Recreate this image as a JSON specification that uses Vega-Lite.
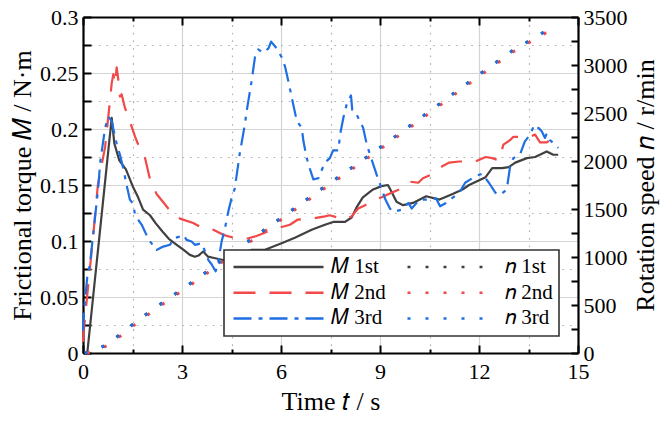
{
  "$schema": "https://vega.github.io/schema/vega-lite/v6.json",
  "width": 495,
  "height": 336,
  "autosize": "none",
  "padding": {"left": 83, "top": 17, "right": 83, "bottom": 68},
  "background": "white",
  "config": {"view": {"stroke": null}, "font": "Liberation Serif, Times New Roman, serif"},
  "datasets": {
    "M": [
      {"t":0.13,"v":0,"s":"M1"},{"t":0.87,"v":0.21,"s":"M1"},{"t":0.95,"v":0.187,"s":"M1"},{"t":1.1,"v":0.172,"s":"M1"},{"t":1.3,"v":0.164,"s":"M1"},{"t":1.45,"v":0.153,"s":"M1"},{"t":1.52,"v":0.148,"s":"M1"},{"t":1.67,"v":0.139,"s":"M1"},{"t":1.82,"v":0.128,"s":"M1"},{"t":2.03,"v":0.123,"s":"M1"},{"t":2.2,"v":0.116,"s":"M1"},{"t":2.42,"v":0.108,"s":"M1"},{"t":2.6,"v":0.102,"s":"M1"},{"t":2.84,"v":0.0966,"s":"M1"},{"t":3.05,"v":0.092,"s":"M1"},{"t":3.24,"v":0.0876,"s":"M1"},{"t":3.39,"v":0.086,"s":"M1"},{"t":3.5,"v":0.087,"s":"M1"},{"t":3.64,"v":0.0906,"s":"M1"},{"t":3.79,"v":0.086,"s":"M1"},{"t":3.94,"v":0.085,"s":"M1"},{"t":4.24,"v":0.083,"s":"M1"},{"t":4.5,"v":0.084,"s":"M1"},{"t":4.8,"v":0.088,"s":"M1"},{"t":5.1,"v":0.092,"s":"M1"},{"t":5.5,"v":0.092,"s":"M1"},{"t":5.9,"v":0.0966,"s":"M1"},{"t":6.42,"v":0.103,"s":"M1"},{"t":6.93,"v":0.11,"s":"M1"},{"t":7.33,"v":0.1145,"s":"M1"},{"t":7.58,"v":0.117,"s":"M1"},{"t":7.94,"v":0.117,"s":"M1"},{"t":8.14,"v":0.121,"s":"M1"},{"t":8.29,"v":0.13,"s":"M1"},{"t":8.48,"v":0.139,"s":"M1"},{"t":8.79,"v":0.146,"s":"M1"},{"t":9.05,"v":0.149,"s":"M1"},{"t":9.24,"v":0.15,"s":"M1"},{"t":9.35,"v":0.144,"s":"M1"},{"t":9.5,"v":0.135,"s":"M1"},{"t":9.7,"v":0.132,"s":"M1"},{"t":10.0,"v":0.134,"s":"M1"},{"t":10.4,"v":0.14,"s":"M1"},{"t":10.8,"v":0.137,"s":"M1"},{"t":11.2,"v":0.142,"s":"M1"},{"t":11.5,"v":0.146,"s":"M1"},{"t":11.7,"v":0.15,"s":"M1"},{"t":12.2,"v":0.157,"s":"M1"},{"t":12.4,"v":0.165,"s":"M1"},{"t":12.7,"v":0.165,"s":"M1"},{"t":12.9,"v":0.166,"s":"M1"},{"t":13.1,"v":0.17,"s":"M1"},{"t":13.45,"v":0.174,"s":"M1"},{"t":13.7,"v":0.175,"s":"M1"},{"t":14.05,"v":0.18,"s":"M1"},{"t":14.25,"v":0.177,"s":"M1"},{"t":14.4,"v":0.177,"s":"M1"},
      {"t":0.0,"v":0.01,"s":"M2"},{"t":0.03,"v":0.022,"s":"M2"},{"t":0.16,"v":0.061,"s":"M2"},{"t":0.31,"v":0.105,"s":"M2"},{"t":0.45,"v":0.15,"s":"M2"},{"t":0.67,"v":0.184,"s":"M2"},{"t":0.82,"v":0.226,"s":"M2"},{"t":0.87,"v":0.241,"s":"M2"},{"t":0.92,"v":0.249,"s":"M2"},{"t":0.97,"v":0.24,"s":"M2"},{"t":1.02,"v":0.255,"s":"M2"},{"t":1.07,"v":0.244,"s":"M2"},{"t":1.12,"v":0.229,"s":"M2"},{"t":1.17,"v":0.231,"s":"M2"},{"t":1.27,"v":0.219,"s":"M2"},{"t":1.42,"v":0.207,"s":"M2"},{"t":1.58,"v":0.193,"s":"M2"},{"t":1.73,"v":0.182,"s":"M2"},{"t":1.88,"v":0.174,"s":"M2"},{"t":2.03,"v":0.155,"s":"M2"},{"t":2.23,"v":0.142,"s":"M2"},{"t":2.53,"v":0.131,"s":"M2"},{"t":2.74,"v":0.123,"s":"M2"},{"t":2.94,"v":0.12,"s":"M2"},{"t":3.34,"v":0.116,"s":"M2"},{"t":3.65,"v":0.111,"s":"M2"},{"t":3.95,"v":0.11,"s":"M2"},{"t":4.25,"v":0.1055,"s":"M2"},{"t":4.55,"v":0.103,"s":"M2"},{"t":4.9,"v":0.1015,"s":"M2"},{"t":5.26,"v":0.1045,"s":"M2"},{"t":5.56,"v":0.108,"s":"M2"},{"t":5.95,"v":0.112,"s":"M2"},{"t":6.27,"v":0.1145,"s":"M2"},{"t":6.5,"v":0.119,"s":"M2"},{"t":6.93,"v":0.12,"s":"M2"},{"t":7.33,"v":0.122,"s":"M2"},{"t":7.48,"v":0.123,"s":"M2"},{"t":7.94,"v":0.119,"s":"M2"},{"t":8.14,"v":0.122,"s":"M2"},{"t":8.34,"v":0.129,"s":"M2"},{"t":8.55,"v":0.132,"s":"M2"},{"t":8.85,"v":0.137,"s":"M2"},{"t":9.05,"v":0.139,"s":"M2"},{"t":9.35,"v":0.143,"s":"M2"},{"t":9.66,"v":0.147,"s":"M2"},{"t":9.9,"v":0.153,"s":"M2"},{"t":10.16,"v":0.152,"s":"M2"},{"t":10.3,"v":0.156,"s":"M2"},{"t":10.6,"v":0.16,"s":"M2"},{"t":10.9,"v":0.167,"s":"M2"},{"t":11.1,"v":0.17,"s":"M2"},{"t":11.4,"v":0.171,"s":"M2"},{"t":11.9,"v":0.171,"s":"M2"},{"t":12.2,"v":0.175,"s":"M2"},{"t":12.4,"v":0.174,"s":"M2"},{"t":12.6,"v":0.172,"s":"M2"},{"t":12.74,"v":0.186,"s":"M2"},{"t":12.94,"v":0.19,"s":"M2"},{"t":13.04,"v":0.193,"s":"M2"},{"t":13.34,"v":0.193,"s":"M2"},{"t":13.55,"v":0.193,"s":"M2"},{"t":13.7,"v":0.195,"s":"M2"},{"t":13.85,"v":0.188,"s":"M2"},{"t":14.05,"v":0.188,"s":"M2"},{"t":14.15,"v":0.19,"s":"M2"},{"t":14.4,"v":0.193,"s":"M2"},
      {"t":0.0,"v":0.02,"s":"M3"},{"t":0.03,"v":0.037,"s":"M3"},{"t":0.13,"v":0.068,"s":"M3"},{"t":0.21,"v":0.079,"s":"M3"},{"t":0.36,"v":0.12,"s":"M3"},{"t":0.46,"v":0.147,"s":"M3"},{"t":0.52,"v":0.17,"s":"M3"},{"t":0.67,"v":0.201,"s":"M3"},{"t":0.77,"v":0.211,"s":"M3"},{"t":0.87,"v":0.207,"s":"M3"},{"t":0.92,"v":0.2,"s":"M3"},{"t":1.02,"v":0.187,"s":"M3"},{"t":1.12,"v":0.177,"s":"M3"},{"t":1.22,"v":0.165,"s":"M3"},{"t":1.32,"v":0.15,"s":"M3"},{"t":1.42,"v":0.137,"s":"M3"},{"t":1.52,"v":0.133,"s":"M3"},{"t":1.58,"v":0.123,"s":"M3"},{"t":1.78,"v":0.1145,"s":"M3"},{"t":1.93,"v":0.105,"s":"M3"},{"t":1.98,"v":0.101,"s":"M3"},{"t":2.08,"v":0.098,"s":"M3"},{"t":2.13,"v":0.0936,"s":"M3"},{"t":2.23,"v":0.092,"s":"M3"},{"t":2.43,"v":0.095,"s":"M3"},{"t":2.64,"v":0.0966,"s":"M3"},{"t":2.74,"v":0.1025,"s":"M3"},{"t":2.94,"v":0.104,"s":"M3"},{"t":3.04,"v":0.1055,"s":"M3"},{"t":3.14,"v":0.101,"s":"M3"},{"t":3.29,"v":0.0995,"s":"M3"},{"t":3.39,"v":0.0966,"s":"M3"},{"t":3.6,"v":0.098,"s":"M3"},{"t":3.7,"v":0.0906,"s":"M3"},{"t":3.8,"v":0.083,"s":"M3"},{"t":3.9,"v":0.079,"s":"M3"},{"t":4.02,"v":0.073,"s":"M3"},{"t":4.08,"v":0.079,"s":"M3"},{"t":4.15,"v":0.0906,"s":"M3"},{"t":4.2,"v":0.0995,"s":"M3"},{"t":4.3,"v":0.111,"s":"M3"},{"t":4.4,"v":0.126,"s":"M3"},{"t":4.5,"v":0.138,"s":"M3"},{"t":4.6,"v":0.147,"s":"M3"},{"t":4.75,"v":0.178,"s":"M3"},{"t":4.91,"v":0.205,"s":"M3"},{"t":4.96,"v":0.216,"s":"M3"},{"t":5.11,"v":0.243,"s":"M3"},{"t":5.21,"v":0.264,"s":"M3"},{"t":5.31,"v":0.271,"s":"M3"},{"t":5.46,"v":0.268,"s":"M3"},{"t":5.62,"v":0.272,"s":"M3"},{"t":5.7,"v":0.278,"s":"M3"},{"t":5.87,"v":0.272,"s":"M3"},{"t":6.02,"v":0.264,"s":"M3"},{"t":6.12,"v":0.256,"s":"M3"},{"t":6.22,"v":0.243,"s":"M3"},{"t":6.37,"v":0.222,"s":"M3"},{"t":6.48,"v":0.207,"s":"M3"},{"t":6.63,"v":0.201,"s":"M3"},{"t":6.68,"v":0.189,"s":"M3"},{"t":6.78,"v":0.174,"s":"M3"},{"t":6.88,"v":0.164,"s":"M3"},{"t":6.98,"v":0.155,"s":"M3"},{"t":7.13,"v":0.156,"s":"M3"},{"t":7.33,"v":0.17,"s":"M3"},{"t":7.48,"v":0.174,"s":"M3"},{"t":7.58,"v":0.181,"s":"M3"},{"t":7.74,"v":0.181,"s":"M3"},{"t":7.79,"v":0.195,"s":"M3"},{"t":7.89,"v":0.21,"s":"M3"},{"t":7.99,"v":0.222,"s":"M3"},{"t":8.06,"v":0.226,"s":"M3"},{"t":8.12,"v":0.23,"s":"M3"},{"t":8.16,"v":0.217,"s":"M3"},{"t":8.24,"v":0.216,"s":"M3"},{"t":8.39,"v":0.207,"s":"M3"},{"t":8.49,"v":0.201,"s":"M3"},{"t":8.6,"v":0.186,"s":"M3"},{"t":8.7,"v":0.177,"s":"M3"},{"t":8.8,"v":0.168,"s":"M3"},{"t":8.9,"v":0.159,"s":"M3"},{"t":9.0,"v":0.151,"s":"M3"},{"t":9.15,"v":0.138,"s":"M3"},{"t":9.3,"v":0.129,"s":"M3"},{"t":9.4,"v":0.126,"s":"M3"},{"t":9.66,"v":0.128,"s":"M3"},{"t":9.86,"v":0.134,"s":"M3"},{"t":9.96,"v":0.129,"s":"M3"},{"t":10.2,"v":0.137,"s":"M3"},{"t":10.5,"v":0.137,"s":"M3"},{"t":10.7,"v":0.138,"s":"M3"},{"t":10.82,"v":0.131,"s":"M3"},{"t":11.0,"v":0.134,"s":"M3"},{"t":11.17,"v":0.138,"s":"M3"},{"t":11.32,"v":0.141,"s":"M3"},{"t":11.42,"v":0.144,"s":"M3"},{"t":11.58,"v":0.152,"s":"M3"},{"t":11.9,"v":0.158,"s":"M3"},{"t":12.1,"v":0.16,"s":"M3"},{"t":12.3,"v":0.152,"s":"M3"},{"t":12.5,"v":0.143,"s":"M3"},{"t":12.64,"v":0.141,"s":"M3"},{"t":12.84,"v":0.146,"s":"M3"},{"t":12.94,"v":0.166,"s":"M3"},{"t":13.04,"v":0.174,"s":"M3"},{"t":13.24,"v":0.177,"s":"M3"},{"t":13.39,"v":0.189,"s":"M3"},{"t":13.55,"v":0.195,"s":"M3"},{"t":13.65,"v":0.202,"s":"M3"},{"t":13.75,"v":0.199,"s":"M3"},{"t":13.8,"v":0.201,"s":"M3"},{"t":13.9,"v":0.198,"s":"M3"},{"t":14.0,"v":0.192,"s":"M3"},{"t":14.05,"v":0.196,"s":"M3"},{"t":14.15,"v":0.19,"s":"M3"},{"t":14.25,"v":0.1875,"s":"M3"},{"t":14.4,"v":0.183,"s":"M3"}
    ],
    "N": [
      {"t":0.05,"v":0,"s":"n1"},{"t":0.3,"v":25,"s":"n1"},{"t":0.5,"v":45,"s":"n1"},{"t":0.8,"v":110,"s":"n1"},{"t":1.0,"v":160,"s":"n1"},{"t":1.25,"v":228,"s":"n1"},{"t":1.5,"v":295,"s":"n1"},{"t":2.0,"v":425,"s":"n1"},{"t":2.5,"v":545,"s":"n1"},{"t":3.0,"v":665,"s":"n1"},{"t":3.5,"v":785,"s":"n1"},{"t":4.0,"v":910,"s":"n1"},{"t":4.5,"v":1035,"s":"n1"},{"t":5.0,"v":1160,"s":"n1"},{"t":6.0,"v":1405,"s":"n1"},{"t":7.0,"v":1655,"s":"n1"},{"t":8.0,"v":1895,"s":"n1"},{"t":9.0,"v":2140,"s":"n1"},{"t":10.0,"v":2390,"s":"n1"},{"t":11.0,"v":2645,"s":"n1"},{"t":12.0,"v":2900,"s":"n1"},{"t":13.0,"v":3145,"s":"n1"},{"t":14.25,"v":3400,"s":"n1"},
      {"t":0.12,"v":0,"s":"n2"},{"t":0.37,"v":25,"s":"n2"},{"t":0.57,"v":45,"s":"n2"},{"t":0.87,"v":110,"s":"n2"},{"t":1.07,"v":160,"s":"n2"},{"t":1.32,"v":228,"s":"n2"},{"t":1.57,"v":295,"s":"n2"},{"t":2.07,"v":425,"s":"n2"},{"t":2.57,"v":545,"s":"n2"},{"t":3.07,"v":665,"s":"n2"},{"t":3.57,"v":785,"s":"n2"},{"t":4.07,"v":910,"s":"n2"},{"t":4.57,"v":1035,"s":"n2"},{"t":5.07,"v":1160,"s":"n2"},{"t":6.07,"v":1405,"s":"n2"},{"t":7.07,"v":1655,"s":"n2"},{"t":8.07,"v":1895,"s":"n2"},{"t":9.07,"v":2140,"s":"n2"},{"t":10.07,"v":2390,"s":"n2"},{"t":11.07,"v":2645,"s":"n2"},{"t":12.07,"v":2900,"s":"n2"},{"t":13.07,"v":3145,"s":"n2"},{"t":14.3,"v":3390,"s":"n2"},
      {"t":0.05,"v":0,"s":"n3"},{"t":0.3,"v":25,"s":"n3"},{"t":0.5,"v":45,"s":"n3"},{"t":0.8,"v":110,"s":"n3"},{"t":1.0,"v":160,"s":"n3"},{"t":1.25,"v":228,"s":"n3"},{"t":1.5,"v":295,"s":"n3"},{"t":2.0,"v":425,"s":"n3"},{"t":2.5,"v":545,"s":"n3"},{"t":3.0,"v":665,"s":"n3"},{"t":3.5,"v":785,"s":"n3"},{"t":4.0,"v":910,"s":"n3"},{"t":4.5,"v":1035,"s":"n3"},{"t":5.0,"v":1160,"s":"n3"},{"t":6.0,"v":1405,"s":"n3"},{"t":7.0,"v":1655,"s":"n3"},{"t":8.0,"v":1895,"s":"n3"},{"t":9.0,"v":2140,"s":"n3"},{"t":10.0,"v":2390,"s":"n3"},{"t":11.0,"v":2645,"s":"n3"},{"t":12.0,"v":2900,"s":"n3"},{"t":13.0,"v":3145,"s":"n3"},{"t":14.25,"v":3400,"s":"n3"}
    ]
  },
  "layer": [
    {
      "data": {"name": "M"},
      "mark": {"type": "line", "strokeWidth": 2.2, "strokeCap": "butt", "strokeJoin": "round"},
      "encoding": {
        "x": {"field": "t", "type": "quantitative", "scale": {"domain": [0, 15], "nice": false},
          "axis": {"orient": "bottom", "values": [0, 1.5, 3, 4.5, 6, 7.5, 9, 10.5, 12, 13.5, 15],
            "labelExpr": "datum.value % 3 == 0 ? datum.label : ''", "format": "~g",
            "title": "Time 𝑡 / s", "titleFont": "Liberation Serif, Times New Roman, serif", "titleFontSize": 26, "titleFontWeight": "normal", "titleColor": "black", "titlePadding": 6,
            "labelFont": "Liberation Serif, Times New Roman, serif", "labelFontSize": 22, "labelColor": "black", "labelPadding": 8, "labelFlush": false, "labelOverlap": false,
            "ticks": false, "domain": true, "domainColor": "black", "domainWidth": 2.2,
            "grid": true, "gridWidth": 1.2,
            "gridColor": {"condition": {"test": "datum.value % 3 == 0", "value": "#d4d4d4"}, "value": "#b5b5b5"},
            "gridDash": {"condition": {"test": "datum.value % 3 == 0", "value": []}, "value": [1.8, 5.8]}}},
        "y": {"field": "v", "type": "quantitative", "scale": {"domain": [0, 0.3], "nice": false},
          "axis": {"orient": "left", "values": [0, 0.025, 0.05, 0.075, 0.1, 0.125, 0.15, 0.175, 0.2, 0.225, 0.25, 0.275, 0.3],
            "labelExpr": "round(datum.value*40) % 2 == 0 ? format(datum.value, '~g') : ''",
            "title": "Frictional torque 𝑀 / N·m", "titleFont": "Liberation Serif, Times New Roman, serif", "titleFontSize": 26, "titleFontWeight": "normal", "titleColor": "black", "titlePadding": 4,
            "labelFont": "Liberation Serif, Times New Roman, serif", "labelFontSize": 22, "labelColor": "black", "labelPadding": 5, "labelFlush": false, "labelOverlap": false,
            "ticks": false, "domain": true, "domainColor": "black", "domainWidth": 2.2,
            "grid": true, "gridWidth": 1.2,
            "gridColor": {"condition": {"test": "round(datum.value*40) % 2 == 0", "value": "#d4d4d4"}, "value": "#b5b5b5"},
            "gridDash": {"condition": {"test": "round(datum.value*40) % 2 == 0", "value": []}, "value": [1.8, 5.8]}}},
        "color": {"field": "s", "type": "nominal",
          "scale": {"domain": ["M1", "M2", "M3", "n1", "n2", "n3"], "range": ["#404040", "#f24848", "#1f6fe3", "#404040", "#f24848", "#1f6fe3"]},
          "legend": {"orient": "none", "legendX": 141, "legendY": 233, "columns": 2, "title": null,
            "symbolType": "stroke", "symbolSize": 8100, "symbolStrokeWidth": 2.5, "clipHeight": 22, "rowPadding": 3.7, "columnPadding": 18,
            "labelOffset": 6, "symbolOffset": 2, "padding": 6, "fillColor": "white", "strokeColor": "#333333",
            "labelFont": "Liberation Serif, Times New Roman, serif", "labelFontSize": 21, "labelColor": "black", "labelLimit": 0,
            "labelExpr": "datum.label == 'M1' ? '𝑀 1st' : datum.label == 'M2' ? '𝑀 2nd' : datum.label == 'M3' ? '𝑀 3rd' : datum.label == 'n1' ? '𝑛 1st' : datum.label == 'n2' ? '𝑛 2nd' : '𝑛 3rd'",
            "encode": {
              "legend": {"update": {"strokeWidth": {"value": 1.6}}},
              "symbols": {"update": {"strokeDash": {"signal": "datum.value == 'M1' ? [100, 0] : datum.value == 'M2' ? [22, 14] : datum.value == 'M3' ? [18, 7, 4, 7] : [3, 6]"}}}
            }}},
        "strokeDash": {"field": "s", "type": "nominal", "legend": null,
          "scale": {"domain": ["M1", "M2", "M3", "n1", "n2", "n3"], "range": [[100, 0], [22, 14], [18, 7, 4, 7], [3, 15], [3, 15], [3, 15]]}}
      }
    },
    {
      "data": {"name": "N"},
      "mark": {"type": "line", "strokeWidth": 3, "strokeCap": "butt"},
      "encoding": {
        "x": {"field": "t", "type": "quantitative", "scale": {"domain": [0, 15], "nice": false},
          "axis": {"orient": "top", "values": [0, 1.5, 3, 4.5, 6, 7.5, 9, 10.5, 12, 13.5, 15], "labels": false, "title": null, "grid": false,
            "domain": true, "domainColor": "black", "domainWidth": 2.2, "ticks": true, "tickColor": "black", "tickWidth": 2,
            "tickSize": {"condition": {"test": "datum.value % 3 == 0", "value": -8}, "value": -4}}},
        "y": {"field": "v", "type": "quantitative", "scale": {"domain": [0, 3500], "nice": false},
          "axis": {"orient": "right", "values": [0, 500, 1000, 1500, 2000, 2500, 3000, 3500], "format": "d",
            "title": "Rotation speed 𝑛 / r/min", "titleAngle": 270, "titleBaseline": "top", "titleFont": "Liberation Serif, Times New Roman, serif", "titleFontSize": 26, "titleFontWeight": "normal", "titleColor": "black", "titlePadding": 5,
            "labelFont": "Liberation Serif, Times New Roman, serif", "labelFontSize": 22, "labelColor": "black", "labelPadding": 5, "labelFlush": false, "labelOverlap": false,
            "ticks": false, "grid": false, "domain": true, "domainColor": "black", "domainWidth": 2.2}},
        "color": {"field": "s", "type": "nominal"},
        "strokeDash": {"field": "s", "type": "nominal"}
      }
    },
    {
      "data": {"name": "M"},
      "mark": {"type": "point", "opacity": 0},
      "encoding": {
        "x": {"field": "t", "type": "quantitative", "scale": {"domain": [0, 15], "nice": false},
          "axis": {"orient": "bottom", "values": [0, 1.5, 3, 4.5, 6, 7.5, 9, 10.5, 12, 13.5, 15], "labels": false, "title": null, "grid": false, "domain": false,
            "ticks": true, "tickColor": "black", "tickWidth": 2,
            "tickSize": {"condition": {"test": "datum.value % 3 == 0", "value": -8}, "value": -4}}},
        "y": {"field": "v", "type": "quantitative", "scale": {"domain": [0, 0.3], "nice": false},
          "axis": {"orient": "left", "values": [0, 0.025, 0.05, 0.075, 0.1, 0.125, 0.15, 0.175, 0.2, 0.225, 0.25, 0.275, 0.3], "labels": false, "title": null, "grid": false, "domain": false,
            "ticks": true, "tickColor": "black", "tickWidth": 2, "tickSize": -8}}
      }
    },
    {
      "data": {"name": "N"},
      "mark": {"type": "point", "opacity": 0},
      "encoding": {
        "x": {"field": "t", "type": "quantitative", "scale": {"domain": [0, 15], "nice": false}, "axis": null},
        "y": {"field": "v", "type": "quantitative", "scale": {"domain": [0, 3500], "nice": false},
          "axis": {"orient": "right", "values": [0, 250, 500, 750, 1000, 1250, 1500, 1750, 2000, 2250, 2500, 2750, 3000, 3250, 3500], "labels": false, "title": null, "grid": false, "domain": false,
            "ticks": true, "tickColor": "black", "tickWidth": 2, "tickSize": -7}}
      }
    }
  ],
  "resolve": {"scale": {"y": "independent"}, "axis": {"x": "independent", "y": "independent"}}
}
